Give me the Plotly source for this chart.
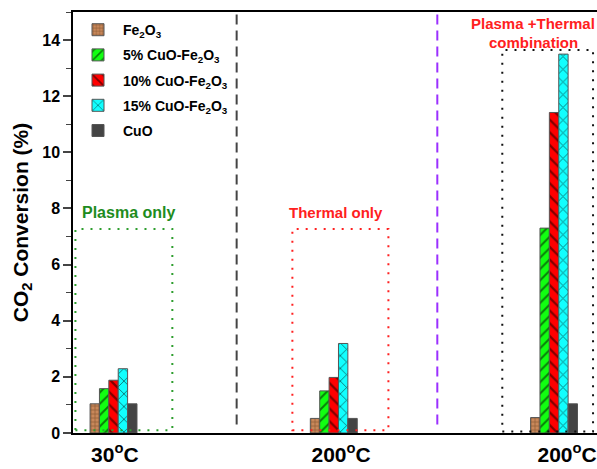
import plotly.graph_objects as go

categories = ["30<sup>o</sup>C", "200<sup>o</sup>C", "200<sup>o</sup>C"]
series_names = ["Fe<sub>2</sub>O<sub>3</sub>", "5% CuO-Fe<sub>2</sub>O<sub>3</sub>",
                "10% CuO-Fe<sub>2</sub>O<sub>3</sub>", "15% CuO-Fe<sub>2</sub>O<sub>3</sub>", "CuO"]
fe2o3 = [1.04, 0.52, 0.55]
cuo5 = [1.58, 1.50, 7.30]
cuo10 = [1.88, 1.98, 11.42]
cuo15 = [2.29, 3.19, 13.50]
cuo = [1.04, 0.52, 1.04]
series_values = [fe2o3, cuo5, cuo10, cuo15, cuo]

colors = ["#C8875A", "#11FF11", "#FF0000", "#11FFFF", "#444444"]
patterns = [dict(shape="+", fgcolor="#5A3515", size=4, solidity=0.35),
            dict(shape="/", fgcolor="black", size=8, solidity=0.25),
            dict(shape="\\", fgcolor="black", size=9, solidity=0.25),
            dict(shape="x", fgcolor="black", size=9, solidity=0.2),
            dict(shape="")]

xpos = [0, 1, 2]
fig = go.Figure()
for i, (name, vals, col, pat) in enumerate(zip(series_names, series_values, colors, patterns)):
    fig.add_trace(go.Bar(x=xpos, y=vals, name="<b>%s</b>" % name, legendgroup="g%d" % i,
                         marker=dict(color=col, pattern=pat,
                                     line=dict(color="#555555", width=1))))

shapes = []
# dashed separators
shapes.append(dict(type="line", xref="x", yref="y", x0=0.559, x1=0.559, y0=0.3, y1=15,
                   line=dict(color="#444444", width=2, dash="10px,6px")))
shapes.append(dict(type="line", xref="x", yref="y", x0=1.47, x1=1.47, y0=0.3, y1=15,
                   line=dict(color="#9B30FF", width=2, dash="10px,6px")))
# dotted boxes
boxes = [(-0.173, 0.267, 0.1, 7.27, "#2E9E2E"),
         (0.812, 1.248, 0.1, 7.27, "#FF2020"),
         (1.765, 2.177, 0.05, 13.65, "#111111")]
for x0, x1, y0, y1, c in boxes:
    shapes.append(dict(type="rect", xref="x", yref="y", x0=x0, x1=x1, y0=y0, y1=y1,
                       line=dict(color=c, width=2, dash="2px,7px")))

annotations = [
    dict(x=-0.152, y=7.85, xref="x", yref="y", text="<b>Plasma only</b>", showarrow=False,
         xanchor="left", font=dict(color="#1E8C1E", size=16, family="Liberation Sans")),
    dict(x=1.01, y=7.85, xref="x", yref="y", text="<b>Thermal only</b>", showarrow=False,
         xanchor="center", font=dict(color="#FF2020", size=15, family="Liberation Sans")),
    dict(x=1.905, y=14.6, xref="x", yref="y", text="<b>Plasma +Thermal</b>", showarrow=False,
         xanchor="center", font=dict(color="#FF2020", size=15, family="Liberation Sans")),
    dict(x=1.905, y=13.9, xref="x", yref="y", text="<b>combination</b>", showarrow=False,
         xanchor="center", font=dict(color="#FF2020", size=15, family="Liberation Sans")),
]

fig.update_layout(
    width=597, height=469,
    margin=dict(l=73, r=0, t=12, b=36, autoexpand=False),
    paper_bgcolor="white", plot_bgcolor="white",
    barmode="group", bargap=0.787, bargroupgap=0,
    shapes=shapes, annotations=annotations,
    font=dict(family="Liberation Sans", color="black"),
    legend=dict(x=0.0, y=0.995, xanchor="left", yanchor="top",
                bgcolor="rgba(0,0,0,0)", font=dict(size=14, family="Liberation Sans"),
                tracegroupgap=4, itemwidth=40),
    xaxis=dict(range=[-0.184, 2.195], tickvals=[0.006, 1.033, 2.059], ticktext=["<b>%s</b>" % c for c in categories],
               tickfont=dict(size=21), ticks="", showgrid=False, zeroline=False, ticklabelstandoff=2,
               showline=True, linecolor="black", linewidth=1.5, mirror=True),
    yaxis=dict(range=[0, 15], tickvals=[0, 2, 4, 6, 8, 10, 12, 14],
               ticktext=["<b>%d</b>" % v for v in [0, 2, 4, 6, 8, 10, 12, 14]],
               tickfont=dict(size=16), ticks="outside", ticklen=8, tickwidth=1.5,
               minor=dict(dtick=1, tick0=1, ticks="outside", ticklen=5, tickwidth=1.2),
               showgrid=False, zeroline=False, showline=True, linecolor="black", linewidth=1.5,
               title=dict(text="<b>CO<sub>2</sub> Conversion (%)</b>", font=dict(size=21), standoff=8)),
)

fig.write_html("out.html", config={"displayModeBar": False},
               post_script="document.body.style.margin='0px';document.body.style.overflow='hidden';")
